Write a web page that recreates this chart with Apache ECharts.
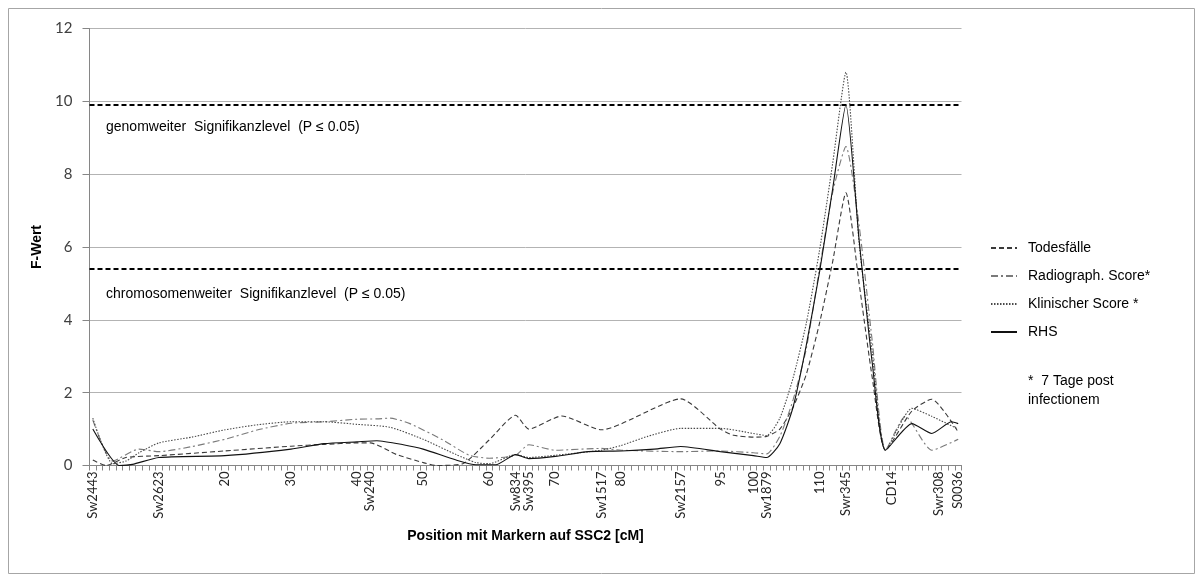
<!DOCTYPE html>
<html><head><meta charset="utf-8">
<script src="https://cdn.jsdelivr.net/npm/echarts@6/dist/echarts.min.js"></script>
<style>html,body{margin:0;padding:0;background:#fff}#c{width:1203px;height:581px}</style>
</head><body><div id="c"></div>
<script>
// Position categories (cM), 0..131
const positions = Array.from({length: 132}, (_, i) => String(i));
// Labelled ticks on the x axis
const tickLabelPositions = [0, 10, 20, 30, 40, 42, 50, 60, 64, 66, 70, 77, 80, 89, 95, 100, 102, 110, 114, 121, 128, 131];
const tickLabelTexts = ['Sw2443', 'Sw2623', '20', '30', '40', 'Sw240', '50', '60', 'Sw834', 'Sw395', '70', 'Sw1517', '80', 'Sw2157', '95', '100', 'Sw1879', '110', 'Swr345', 'CD14', 'Swr308', 'S0036'];

const seriesNames = ['Todesfälle', 'Radiograph. Score*', 'Klinischer Score *', 'RHS'];

const todesPos = [0, 2, 5, 10, 20, 30, 35, 40, 42, 46, 50, 52, 56, 60, 64, 66, 71, 77, 89, 95, 97, 100, 102, 104, 106, 108, 110, 112, 114, 116, 118, 120, 124, 127, 131];
const todesVal = [0.15, 0.0, 0.22, 0.27, 0.40, 0.53, 0.58, 0.62, 0.62, 0.30, 0.08, 0.0, 0.05, 0.70, 1.38, 1.00, 1.36, 0.98, 1.83, 1.00, 0.83, 0.78, 0.80, 1.0, 1.6, 2.5, 3.9, 5.6, 7.49, 5.0, 2.4, 0.42, 1.5, 1.82, 0.92];

const radioPos = [0, 3, 7, 10, 15, 20, 25, 30, 35, 40, 43, 45, 48, 53, 57, 60, 64, 66, 70, 77, 80, 89, 95, 100, 102, 104, 106, 108, 110, 112, 114, 116, 118, 120, 123, 127, 131];
const radioVal = [1.25, 0.12, 0.45, 0.38, 0.52, 0.72, 0.98, 1.16, 1.20, 1.27, 1.28, 1.30, 1.15, 0.70, 0.28, 0.20, 0.28, 0.57, 0.42, 0.47, 0.42, 0.38, 0.40, 0.35, 0.32, 0.8, 1.8, 3.2, 5.4, 7.5, 8.76, 6.6, 3.4, 0.42, 1.35, 0.42, 0.72];

const klinPos = [0, 3, 5, 7, 10, 15, 20, 25, 30, 35, 40, 45, 50, 55, 58, 60, 64, 66, 70, 77, 80, 84, 89, 95, 100, 102, 104, 106, 108, 110, 112, 114, 116, 118, 120, 124, 127, 131];
const klinVal = [1.30, 0.05, 0.12, 0.35, 0.62, 0.78, 0.98, 1.12, 1.20, 1.20, 1.13, 1.05, 0.72, 0.30, 0.08, 0.05, 0.30, 0.22, 0.28, 0.42, 0.55, 0.80, 1.02, 1.02, 0.88, 0.82, 1.3, 2.4, 3.9, 5.9, 8.3, 10.8, 6.1, 3.1, 0.42, 1.57, 1.35, 1.0];

const rhsPos = [0, 4, 6, 10, 20, 30, 35, 40, 43, 47, 50, 55, 58, 61, 64, 66, 70, 75, 80, 85, 89, 95, 100, 102, 104, 106, 108, 110, 112, 114, 116, 118, 120, 124, 127, 130, 131];
const rhsVal = [1.0, 0.0, 0.03, 0.22, 0.27, 0.45, 0.60, 0.65, 0.68, 0.57, 0.45, 0.15, 0.02, 0.02, 0.30, 0.19, 0.25, 0.38, 0.40, 0.45, 0.52, 0.38, 0.27, 0.22, 0.6, 1.6, 3.3, 5.3, 7.6, 9.9, 6.2, 2.8, 0.42, 1.15, 0.88, 1.2, 1.15];

const thresholdValues = [9.9, 5.4];
const thresholdTexts = ['genomweiter  Signifikanzlevel  (P \u2264 0.05)', 'chromosomenweiter  Signifikanzlevel  (P \u2264 0.05)'];
const footnote = '*  7 Tage post\ninfectionem';

const labelMap = {};
tickLabelPositions.forEach((p, i) => { labelMap[p] = tickLabelTexts[i]; });
const pairs = (ps, vs) => ps.map((p, i) => [p, vs[i]]);

const styles = [
  {color: '#3a3a3a', type: [5, 3], width: 1.1},
  {color: '#7a7a7a', type: [7, 3, 2, 3], width: 1.1},
  {color: '#4a4a4a', type: [1.5, 1.5], width: 1.1},
  {color: '#111111', type: 'solid', width: 1.1}
];
const datas = [pairs(todesPos, todesVal), pairs(radioPos, radioVal), pairs(klinPos, klinVal), pairs(rhsPos, rhsVal)];

const chart = echarts.init(document.getElementById('c'));
const series = seriesNames.map((n, i) => ({
  name: n, type: 'line', data: datas[i], smooth: 0.2, symbol: 'none',
  color: styles[i].color,
  lineStyle: {color: styles[i].color, type: styles[i].type, width: styles[i].width},
  z: 3 + i, animation: false
}));
series[3].markLine = {
  silent: true, symbol: 'none', animation: false,
  label: {show: false},
  lineStyle: {color: '#000', type: [5, 3], width: 2},
  data: thresholdValues.map(v => ({yAxis: v}))
};

chart.setOption({
  animation: false,
  backgroundColor: '#fff',
  grid: {left: 89.5, top: 28.5, width: 872, height: 437},
  legend: {
    orient: 'vertical', left: 985, top: 236, itemWidth: 26, itemHeight: 10, itemGap: 14,
    itemStyle: {opacity: 0},
    textStyle: {fontFamily: 'Liberation Sans, Arial', fontSize: 14, color: '#000', padding: [0, 0, 0, 6]},
    data: seriesNames
  },
  xAxis: {
    type: 'category', data: positions, boundaryGap: true,
    name: 'Position mit Markern auf SSC2 [cM]', nameLocation: 'middle', nameGap: 64,
    nameTextStyle: {fontFamily: 'Liberation Sans, Arial', fontWeight: 'bold', fontSize: 14, color: '#000'},
    axisLine: {lineStyle: {color: '#868686', width: 1}},
    axisTick: {show: true, interval: 0, length: 5, lineStyle: {color: '#868686'}},
    axisLabel: {interval: 0, rotate: 90, margin: 6, fontFamily: 'Lato, Liberation Sans', fontSize: 13, color: '#262626',
      formatter: (v, idx) => labelMap[idx] || ''},
    splitLine: {show: false}
  },
  yAxis: {
    type: 'value', min: 0, max: 12, interval: 2,
    name: 'F-Wert', nameLocation: 'middle', nameGap: 38, nameRotate: 90,
    nameTextStyle: {fontFamily: 'Liberation Sans, Arial', fontWeight: 'bold', fontSize: 14, color: '#000'},
    axisLine: {show: true, lineStyle: {color: '#868686'}},
    axisTick: {show: true, length: 7, lineStyle: {color: '#868686'}},
    axisLabel: {fontFamily: 'Lato, Liberation Sans', fontSize: 15, color: '#404040', margin: 17},
    splitLine: {lineStyle: {color: '#b3b3b3', width: 1}}
  },
  series: series
});

const tY = thresholdValues.map(v => chart.convertToPixel({yAxisIndex: 0}, v));
chart.setOption({
  graphic: [
    {type: 'rect', shape: {x: 8.5, y: 8.5, width: 1186, height: 565}, style: {fill: null, stroke: '#a6a6a6', lineWidth: 1}, z: -1, silent: true},
    {type: 'text', x: 106, y: tY[0] + 22, style: {text: thresholdTexts[0], fontFamily: 'Liberation Sans, Arial', fontSize: 14, fill: '#000', verticalAlign: 'middle'}},
    {type: 'text', x: 106, y: tY[1] + 25, style: {text: thresholdTexts[1], fontFamily: 'Liberation Sans, Arial', fontSize: 14, fill: '#000', verticalAlign: 'middle'}},
    {type: 'text', x: 1028, y: 372, style: {text: footnote, fontFamily: 'Liberation Sans, Arial', fontSize: 14, lineHeight: 19, fill: '#000'}}
  ]
});
</script>
</body></html>
